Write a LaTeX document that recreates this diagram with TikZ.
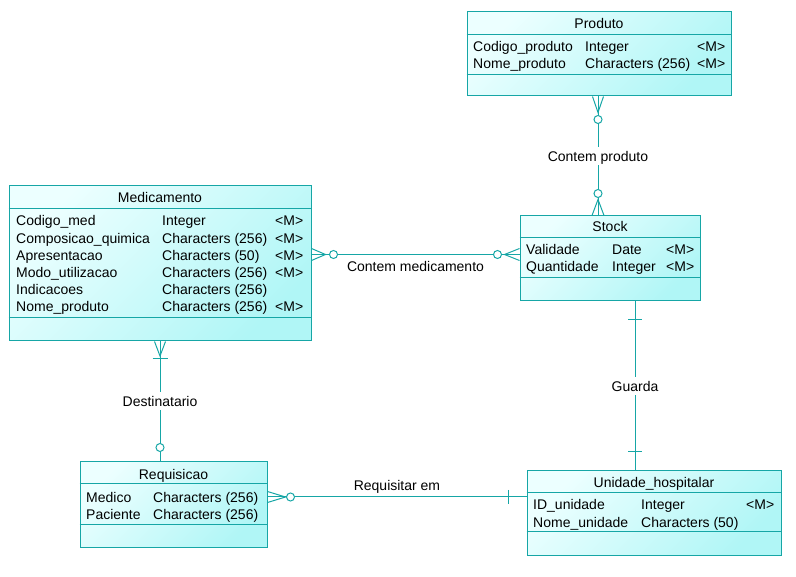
\documentclass[tikz,border=0pt]{standalone}
\usepackage{fontspec}
\setmainfont{Liberation Sans}
\definecolor{erline}{RGB}{22,166,166}
\definecolor{fillA}{RGB}{236,255,255}
\definecolor{fillB}{RGB}{176,246,246}
\tikzset{
  entity/.style={draw=erline, line width=1pt, rectangle, inner sep=0pt, top color=fillA, bottom color=fillB, shading angle=45},
  sep/.style={draw=erline, line width=1pt},
  conn/.style={draw=erline, line width=1pt},
  ring/.style={draw=erline, fill=white, line width=1pt},
  txt/.style={anchor=base west, inner sep=0pt, yshift=-1pt, font=\fontsize{14}{17}\selectfont},
  ttl/.style={anchor=base, inner sep=0pt, yshift=-1pt, font=\fontsize{14}{17}\selectfont},
  lbl/.style={inner sep=2pt, font=\fontsize{14}{17}\selectfont, text height=12.5pt, text depth=1.5pt}
}
\begin{document}
\begin{tikzpicture}[x=1pt,y=-1pt]
\useasboundingbox (0,0) rectangle (796,577);

% entities
\node[entity, minimum width=264pt, minimum height=84pt] (prod) at (599,54) {};
\node[entity, minimum width=180pt, minimum height=85pt] (stock) at (610,258.5) {};
\node[entity, minimum width=302pt, minimum height=155pt] (medic) at (160,263.5) {};
\node[entity, minimum width=187pt, minimum height=85pt] (req) at (173.5,504.5) {};
\node[entity, minimum width=254pt, minimum height=84pt] (unid) at (654,513) {};

% separators
\draw[sep] ([yshift=-23pt]prod.north west) -- ([yshift=-23pt]prod.north east);
\draw[sep] ([yshift=-63pt]prod.north west) -- ([yshift=-63pt]prod.north east);
\draw[sep] ([yshift=-22pt]stock.north west) -- ([yshift=-22pt]stock.north east);
\draw[sep] ([yshift=-62pt]stock.north west) -- ([yshift=-62pt]stock.north east);
\draw[sep] ([yshift=-23pt]medic.north west) -- ([yshift=-23pt]medic.north east);
\draw[sep] ([yshift=-132pt]medic.north west) -- ([yshift=-132pt]medic.north east);
\draw[sep] ([yshift=-22.5pt]req.north west) -- ([yshift=-22.5pt]req.north east);
\draw[sep] ([yshift=-63pt]req.north west) -- ([yshift=-63pt]req.north east);
\draw[sep] ([yshift=-22pt]unid.north west) -- ([yshift=-22pt]unid.north east);
\draw[sep] ([yshift=-61pt]unid.north west) -- ([yshift=-61pt]unid.north east);

% Contem produto
\draw[conn] ([xshift=-1pt]prod.south) -- node[lbl, fill=white] (l1) {Contem produto} ([xshift=-12pt]stock.north);
\draw[conn] ([xshift=-6.5pt]prod.south) -- ([xshift=-1pt,yshift=-16pt]prod.south) -- ([xshift=4.5pt]prod.south);
\draw[ring] ([xshift=-1pt,yshift=-23pt]prod.south) circle (4pt);
\draw[conn] ([xshift=-18pt]stock.north) -- ([xshift=-12pt,yshift=16pt]stock.north) -- ([xshift=-6pt]stock.north);
\draw[ring] ([xshift=-12pt,yshift=22pt]stock.north) circle (4pt);

% Contem medicamento
\draw[conn] ([yshift=9pt]medic.east) -- node[lbl, yshift=-11.5pt] (l2) {Contem medicamento} ([yshift=4pt]stock.west);
\draw[conn] ([yshift=15pt]medic.east) -- ([xshift=14pt,yshift=9pt]medic.east) -- ([yshift=3pt]medic.east);
\draw[ring] ([xshift=22pt,yshift=9pt]medic.east) circle (4pt);
\draw[conn] ([yshift=10pt]stock.west) -- ([xshift=-15pt,yshift=4pt]stock.west) -- ([yshift=-2pt]stock.west);
\draw[ring] ([xshift=-22pt,yshift=4pt]stock.west) circle (4pt);

% Destinatario
\draw[conn] (medic.south) -- node[lbl, fill=white] (l3) {Destinatario} ([xshift=-13.5pt]req.north);
\draw[conn] ([xshift=-5.5pt]medic.south) -- ([yshift=-14.5pt]medic.south) -- ([xshift=5.5pt]medic.south);
\draw[conn] ([xshift=-7.5pt,yshift=-17pt]medic.south) -- ([xshift=7.5pt,yshift=-17pt]medic.south);
\draw[ring] ([xshift=-13.5pt,yshift=14pt]req.north) circle (4pt);

% Guarda
\draw[conn] ([xshift=25pt]stock.south) -- node[lbl, fill=white] (l4) {Guarda} ([xshift=-19pt]unid.north);
\draw[conn] ([xshift=18pt,yshift=-18pt]stock.south) -- ([xshift=32pt,yshift=-18pt]stock.south);
\draw[conn] ([xshift=-26pt,yshift=19pt]unid.north) -- ([xshift=-12pt,yshift=19pt]unid.north);

% Requisitar em
\draw[conn] ([yshift=7.5pt]req.east) -- node[lbl, yshift=12pt] (l5) {Requisitar em} ([yshift=16pt]unid.west);
\draw[conn] ([yshift=13pt]req.east) -- ([xshift=18pt,yshift=7.5pt]req.east) -- ([yshift=2pt]req.east);
\draw[ring] ([xshift=23pt,yshift=7.5pt]req.east) circle (4pt);
\draw[conn] ([xshift=-18pt,yshift=23pt]unid.west) -- ([xshift=-18pt,yshift=9pt]unid.west);

% Produto texts
\node[ttl] (pt) at (599,28) {Produto};
\node[txt] (p1a) at (473,51) {Codigo\_produto};
\node[txt] (p1b) at (585,51) {Integer};
\node[txt] (p1c) at (697,51) {<M>};
\node[txt] (p2a) at (473,68) {Nome\_produto};
\node[txt] (p2b) at (585,68) {Characters (256)};
\node[txt] (p2c) at (697,68) {<M>};

% Stock texts
\node[ttl] (st) at (610,231) {Stock};
\node[txt] (s1a) at (526,254) {Validade};
\node[txt] (s1b) at (612,254) {Date};
\node[txt] (s1c) at (666,254) {<M>};
\node[txt] (s2a) at (526,271) {Quantidade};
\node[txt] (s2b) at (612,271) {Integer};
\node[txt] (s2c) at (666,271) {<M>};

% Medicamento texts
\node[ttl] (mt) at (160,202) {Medicamento};
\node[txt] (m1a) at (16,225) {Codigo\_med};
\node[txt] (m1b) at (162,225) {Integer};
\node[txt] (m1c) at (275,225) {<M>};
\node[txt] (m2a) at (16,242.2) {Composicao\_quimica};
\node[txt] (m2b) at (162,242.2) {Characters (256)};
\node[txt] (m2c) at (275,242.2) {<M>};
\node[txt] (m3a) at (16,259.4) {Apresentacao};
\node[txt] (m3b) at (162,259.4) {Characters (50)};
\node[txt] (m3c) at (275,259.4) {<M>};
\node[txt] (m4a) at (16,276.6) {Modo\_utilizacao};
\node[txt] (m4b) at (162,276.6) {Characters (256)};
\node[txt] (m4c) at (275,276.6) {<M>};
\node[txt] (m5a) at (16,293.8) {Indicacoes};
\node[txt] (m5b) at (162,293.8) {Characters (256)};
\node[txt] (m6a) at (16,311) {Nome\_produto};
\node[txt] (m6b) at (162,311) {Characters (256)};
\node[txt] (m6c) at (275,311) {<M>};

% Requisicao texts
\node[ttl] (rt) at (173.5,478) {Requisicao};
\node[txt] (r1a) at (86,501) {Medico};
\node[txt] (r1b) at (153,501) {Characters (256)};
\node[txt] (r2a) at (86,518) {Paciente};
\node[txt] (r2b) at (153,518) {Characters (256)};

% Unidade_hospitalar texts
\node[ttl] (ut) at (654,487) {Unidade\_hospitalar};
\node[txt] (u1a) at (533,508) {ID\_unidade};
\node[txt] (u1b) at (641,508) {Integer};
\node[txt] (u1c) at (746,508) {<M>};
\node[txt] (u2a) at (533,526) {Nome\_unidade};
\node[txt] (u2b) at (641,526) {Characters (50)};
\end{tikzpicture}
\end{document}
